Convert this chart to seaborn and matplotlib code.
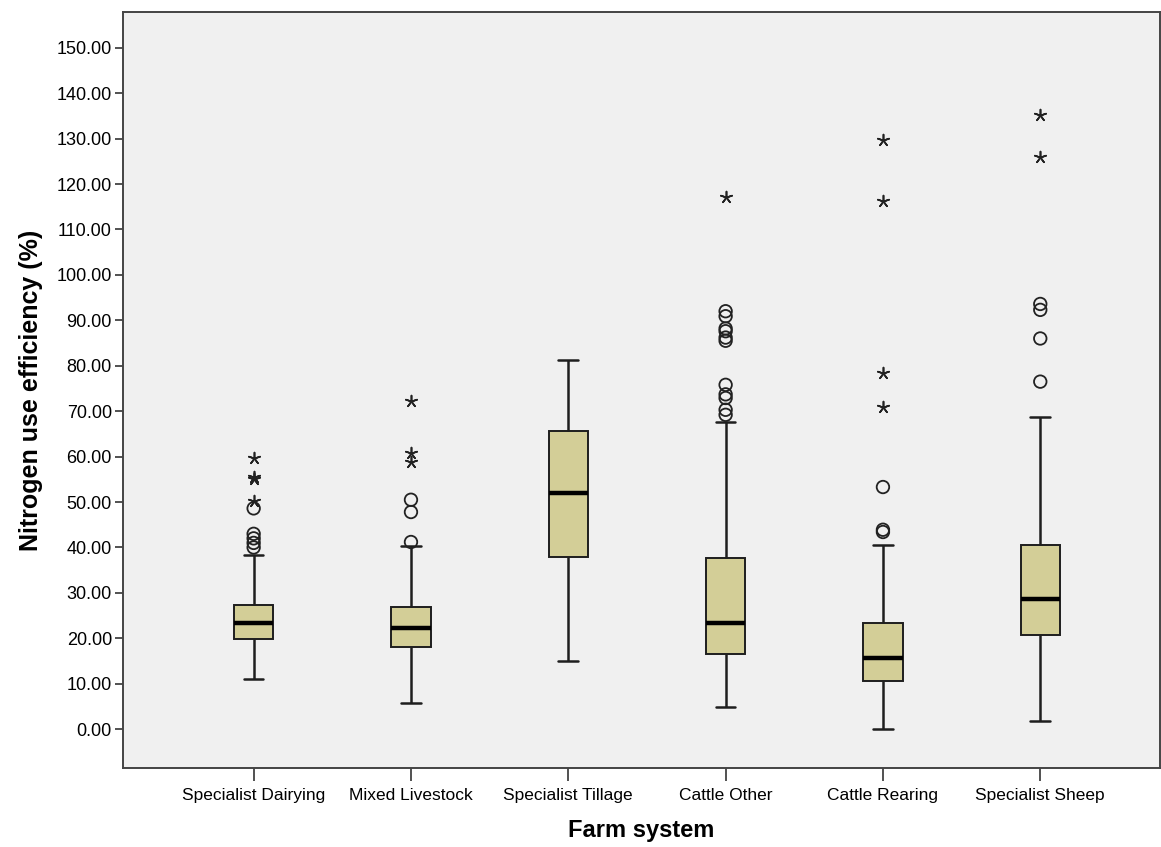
import matplotlib
matplotlib.use("Agg")
import matplotlib.pyplot as plt
import numpy as np
import pandas as pd
import seaborn as sns
from matplotlib.ticker import FormatStrFormatter

# ── data ──────────────────────────────────────────────────────────────────────
systems = ["Specialist Dairying", "Mixed Livestock", "Specialist Tillage",
           "Cattle Other", "Cattle Rearing", "Specialist Sheep"]

whisker_low = [11.0, 5.7, 15.0, 4.8, 0.0, 1.8]
q1 = [19.8, 18.1, 37.9, 16.6, 10.6, 20.7]
median = [23.3, 22.2, 52.0, 23.3, 15.6, 28.6]
q3 = [27.3, 26.9, 65.6, 37.7, 23.3, 40.5]
whisker_high = [38.3, 40.3, 81.3, 67.6, 40.5, 68.7]

# circles = outliers, stars = extreme values
outliers = {
    "Specialist Dairying": [40.0, 41.0, 42.0, 43.0, 48.6],
    "Mixed Livestock": [41.2, 47.8, 50.5],
    "Specialist Tillage": [],
    "Cattle Other": [69.2, 70.3, 72.9, 73.7, 75.8, 85.5, 86.2, 87.6, 88.2, 90.9, 92.0],
    "Cattle Rearing": [43.4, 43.9, 53.3],
    "Specialist Sheep": [76.5, 86.0, 92.3, 93.6],
}
extremes = {
    "Specialist Dairying": [50.3, 55.0, 55.6, 59.6],
    "Mixed Livestock": [58.8, 60.8, 72.2],
    "Specialist Tillage": [],
    "Cattle Other": [117.2],
    "Cattle Rearing": [71.0, 78.5, 116.2, 129.8],
    "Specialist Sheep": [126.0, 135.3],
}

# ── tables for seaborn ────────────────────────────────────────────────────────
# five numbers per group -> np.percentile gives exactly q1 / median / q3
box_df = pd.DataFrame({
    "system": np.repeat(systems, 5),
    "nue": np.column_stack([whisker_low, q1, median, q3, whisker_high]).ravel(),
})
out_df = pd.DataFrame([(s, v) for s in systems for v in outliers[s]],
                      columns=["system", "nue"])
ext_df = pd.DataFrame([(s, v) for s in systems for v in extremes[s]],
                      columns=["system", "nue"])

# ── style ─────────────────────────────────────────────────────────────────────
sns.set_style("white")
plt.rcParams["font.family"] = ["Liberation Sans", "DejaVu Sans"]
plt.rcParams["text.color"] = "black"
plt.rcParams["axes.labelcolor"] = "black"
plt.rcParams["xtick.color"] = "black"
plt.rcParams["ytick.color"] = "black"

BOX_FILL = "#d3ce97"
EDGE = "#1e1e1e"

fig = plt.figure(figsize=(11.61, 8.47), dpi=100)
ax = fig.add_axes([0.106, 0.093, 0.893, 0.893])
ax.set_facecolor("#f0f0f0")

sns.boxplot(
    data=box_df, x="system", y="nue", order=systems, ax=ax,
    color=BOX_FILL, saturation=1, width=0.25, whis=(0, 100),
    showfliers=False, linecolor=EDGE, linewidth=1.4,
    medianprops=dict(color="black", linewidth=3.2),
    whiskerprops=dict(color=EDGE, linewidth=1.8),
    capprops=dict(color=EDGE, linewidth=1.8),
)

sns.stripplot(
    data=out_df, x="system", y="nue", order=systems, ax=ax,
    jitter=False, marker="o", size=9, color="none",
    edgecolor="#222222", linewidth=1.3,
)
sns.stripplot(
    data=ext_df, x="system", y="nue", order=systems, ax=ax,
    jitter=False, marker=(5, 2, 0), size=8.5, color="#222222",
    edgecolor="#222222", linewidth=1.2,
)

# ── axes ──────────────────────────────────────────────────────────────────────
ax.set_ylim(-8.6, 157.9)
ax.set_xlim(-0.83, 5.76)
ax.set_yticks(np.arange(0, 151, 10))
ax.yaxis.set_major_formatter(FormatStrFormatter("%.2f"))

ax.tick_params(axis="y", direction="out", length=6, width=1.2, color="#333333",
               labelsize=13, pad=2, left=True)
ax.tick_params(axis="x", direction="out", length=9, width=1.2, color="#333333",
               labelsize=12.5, pad=5, bottom=True)

for spine in ax.spines.values():
    spine.set_visible(True)
    spine.set_color("#444444")
    spine.set_linewidth(1.4)

ax.set_xlabel("Farm system", fontsize=17, fontweight="bold", labelpad=12)
ax.set_ylabel("Nitrogen use efficiency (%)", fontsize=18, fontweight="bold",
              labelpad=10)

fig.savefig("out.png", dpi=100, facecolor="white")
